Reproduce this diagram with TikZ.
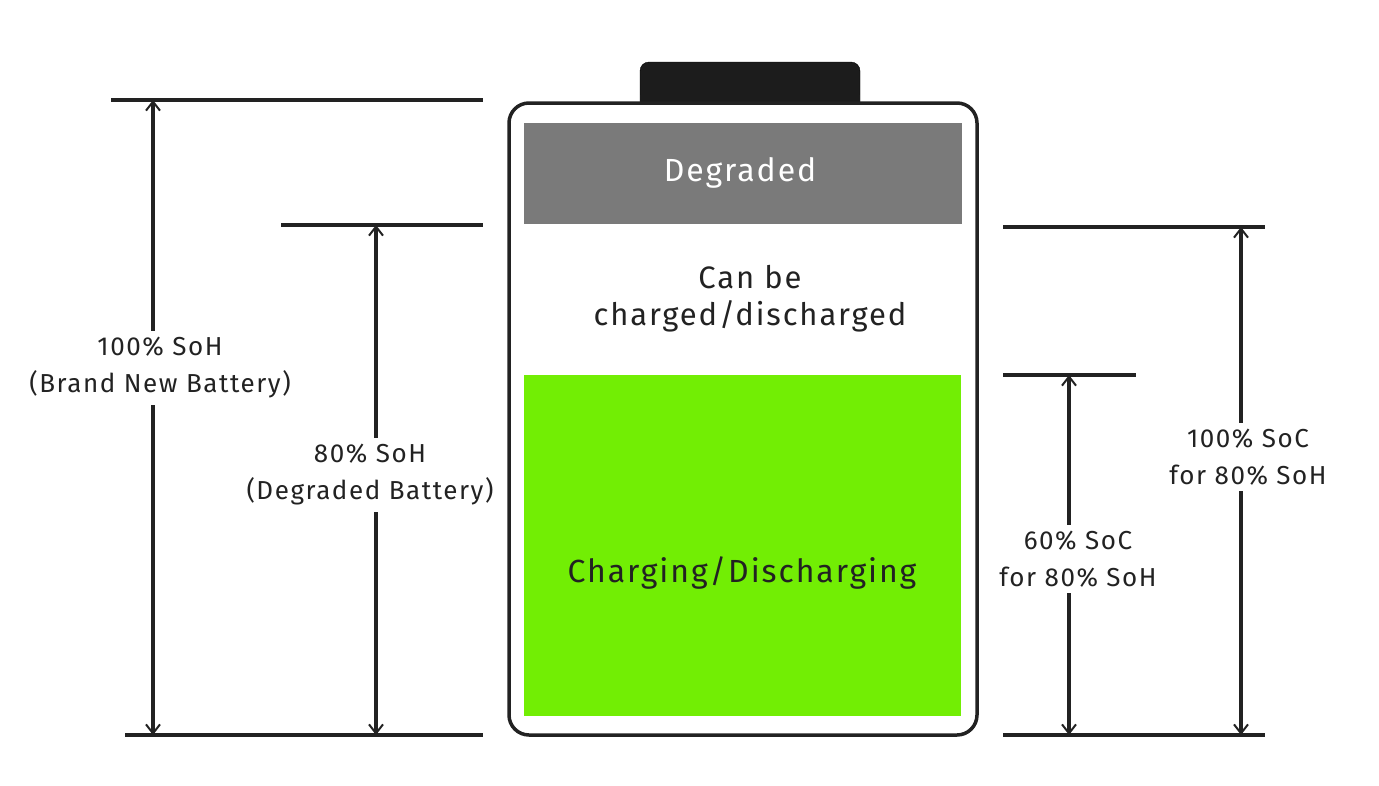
\documentclass[tikz,border=0pt]{standalone}
\usepackage{fontspec}
\setmainfont[LetterSpace=6]{Fira Sans}
\usetikzlibrary{arrows.meta}
\definecolor{ink}{HTML}{222222}
\definecolor{capgray}{HTML}{1C1C1C}
\definecolor{deadgray}{HTML}{7A7A7A}
\definecolor{livegreen}{HTML}{72EE04}
\begin{document}
\begin{tikzpicture}[x=1pt,y=-1pt,
  every node/.style={text=ink, align=center, font=\fontsize{26}{37}\selectfont},
  level/.style={line width=3.5pt, color=ink},
  span/.style={line width=3.5pt, color=ink, {Straight Barb[length=9pt,width=14pt,line width=2pt]}-{Straight Barb[length=9pt,width=14pt,line width=2pt]}},
  tag/.style={fill=white, inner sep=6pt}]
\useasboundingbox (0,0) rectangle (1379,785);

% Battery body and terminal
\draw[fill=capgray, rounded corners=9pt] (640,103) -- (640,62) -- (860,62) -- (860,103);
\fill[capgray] (640,95) rectangle (860,103);
\draw[line width=3.5pt, color=ink, fill=white, rounded corners=20pt] (509,103) rectangle (977,735);
\fill[deadgray] (524,123) rectangle (962,224);
\fill[livegreen] (524,375) rectangle (961,716);
\node[text=white, font=\fontsize{32}{37}\selectfont] (deg) at (740,173) {Degraded};
\node[font=\fontsize{31}{37}\selectfont] (free) at (750,299) {Can be\\charged/discharged};
\node[font=\fontsize{32}{37}\selectfont] (use) at (742,573) {Charging/Discharging};

% Levels on the left
\coordinate (newtop) at (153,100);
\coordinate (newbot) at (153,735);
\coordinate (oldtop) at (376,225);
\coordinate (oldbot) at (376,735);
\draw[level] (111,100) -- (483,100);
\draw[level] (281,225) -- (483,225);
\draw[level] (125,735) -- (483,735);

% Levels on the right
\coordinate (soctop) at (1069,375);
\coordinate (socbot) at (1069,735);
\coordinate (fulltop) at (1241,227);
\coordinate (fullbot) at (1241,735);
\draw[level] (1003,375) -- (1136,375);
\draw[level] (1003,227) -- (1265,227);
\draw[level] (1003,735) -- (1265,735);

% Spans with their labels
\draw[span] (newbot) -- (newtop);
\node[tag] (newlbl) at (160,368) {100\% SoH\\(Brand New Battery)};
\draw[span] (oldbot) -- (oldtop);
\node[tag] (oldlbl) at (370,475) {80\% SoH\\(Degraded Battery)};
\draw[span] (socbot) -- (soctop);
\node[tag] (soclbl) at (1078,559) {60\% SoC\\for 80\% SoH};
\draw[span] (fullbot) -- (fulltop);
\node[tag] (fulllbl) at (1248,457) {100\% SoC\\for 80\% SoH};
\end{tikzpicture}
\end{document}
